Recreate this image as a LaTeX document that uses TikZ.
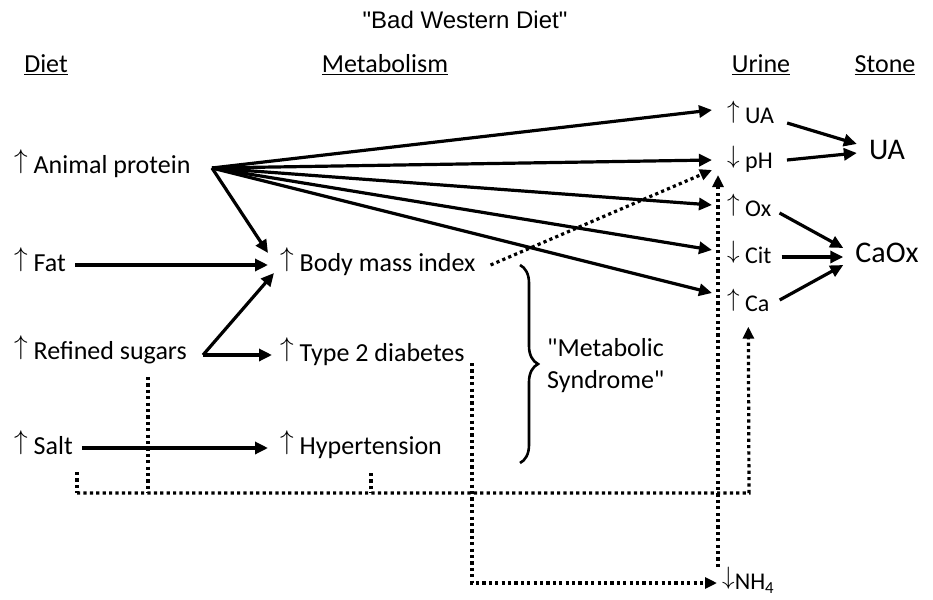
\documentclass[tikz,border=0pt]{standalone}
\usepackage{fontspec}
\usepackage{graphicx}
\setmainfont{Carlito}
\newfontfamily\arialf{Liberation Sans}
\usetikzlibrary{arrows.meta,calc,decorations.pathreplacing}
\newcommand{\ua}{\raisebox{\depth}{\resizebox*{!}{0.93em}{$\uparrow$}}}
\newcommand{\da}{\raisebox{\depth}{\resizebox*{!}{0.93em}{$\downarrow$}}}
\newcommand{\qq}{\textquotedbl}
\begin{document}
\begin{tikzpicture}[x=1pt,y=-1pt,
  txt/.style={inner sep=0pt,font=\fontsize{26}{32}\selectfont,anchor=west,text height=19pt,text depth=6pt},
  utxt/.style={inner sep=0pt,font=\fontsize{24}{30}\selectfont,anchor=west,text height=18pt,text depth=5pt},
  head/.style={inner sep=0pt,font=\fontsize{26}{32}\selectfont,text height=19pt,text depth=6pt},
  stone/.style={inner sep=0pt,font=\fontsize{30}{36}\selectfont},
  arr/.style={line width=3.2pt,-{Triangle[length=13pt,width=12pt]}},
  dotl/.style={line width=3.2pt,dash pattern=on 3.2pt off 3.2pt},
  darr/.style={dotl,-{Triangle[length=12pt,width=11pt]}}]
\useasboundingbox (0,0) rectangle (933,599);
% title and headings
\node[inner sep=0pt,font=\arialf\fontsize{24}{28}\selectfont] (title) at (465,20) {\qq Bad Western Diet\qq};
\node[head] (hdiet) at (46,66) {\underline{Diet}};
\node[head] (hmet) at (385,66) {\underline{Metabolism}};
\node[head] (hur) at (761,66) {\underline{Urine}};
\node[head] (hst) at (885,66) {\underline{Stone}};
% diet
\node[txt] (ap) at (14,167) {\ua{} Animal protein};
\node[txt] (fat) at (14,265) {\ua{} Fat};
\node[txt] (sug) at (14,353) {\ua{} Refined sugars};
\node[txt] (salt) at (14,448) {\ua{} Salt};
% metabolism
\node[txt] (bmi) at (280,265) {\ua{} Body mass index};
\node[txt] (t2d) at (280,355) {\ua{} Type 2 diabetes};
\node[txt] (hyp) at (280,448) {\ua{} Hypertension};
\node[txt,align=left,text height=,text depth=] (ms) at (547,366) {\qq Metabolic\\Syndrome\qq};
% urine
\node[utxt] (uua) at (727,117) {\ua{} UA};
\node[utxt] (uph) at (727,162) {\da{} pH};
\node[utxt] (uox) at (727,210) {\ua{} Ox};
\node[utxt] (ucit) at (727,257) {\da{} Cit};
\node[utxt] (uca) at (727,305) {\ua{} Ca};
\node[utxt] (nh4) at (722,583) {\da NH\textsubscript{4}};
% stone
\node[stone] (sua) at (887,150) {UA};
\node[stone] (scaox) at (887,253) {CaOx};
% solid arrows from animal protein
\coordinate (apo) at (212,168);
\draw[arr] (apo) -- ($(uua.west)+(-15,-7)$);
\draw[arr] (apo) -- ($(uph.west)+(-15,-2)$);
\draw[arr] (apo) -- ($(uox.west)+(-15,-5)$);
\draw[arr] (apo) -- ($(ucit.west)+(-15,-7)$);
\draw[arr] (apo) -- ($(uca.west)+(-15,-12)$);
\draw[arr] (apo) -- ($(bmi.west)+(-12,-12)$);
% other diet arrows
\draw[arr] ($(fat.east)+(9,0)$) -- ($(bmi.west)+(-12,0)$);
\coordinate (sugo) at (203,355);
\draw[arr] (sugo) -- ($(bmi.west)+(-6,8)$);
\draw[arr] (sugo) -- ($(t2d.west)+(-8,0)$);
\draw[arr] ($(salt.east)+(9,0)$) -- ($(hyp.west)+(-12,0)$);
% urine to stone
\draw[arr] ($(uua.east)+(13,6)$) -- ($(sua.west)+(-12,-6)$);
\draw[arr] ($(uph.east)+(14,-2)$) -- ($(sua.west)+(-12,3)$);
\draw[arr] ($(uox.east)+(8,3)$) -- ($(scaox.west)+(-12,-5)$);
\draw[arr] ($(ucit.east)+(10,0)$) -- ($(scaox.west)+(-12,4)$);
\draw[arr] ($(uca.east)+(10,-5)$) -- ($(scaox.west)+(-12,12)$);
% brace
\draw[line width=2.6pt,decorate,decoration={brace,amplitude=18pt}] (520,265) -- (520,463);
% dotted
\draw[darr] ($(bmi.east)+(15,0)$) -- ($(uph.west)+(-15,8)$);
\draw[darr] ($(nh4.west)+(-4,-16)$) -- ($(uph.west)+(-9,13)$);
\coordinate (saltd) at (77,472);
\coordinate (sugd) at (148,377);
\coordinate (hypd) at (371,473);
\coordinate (t2dd) at (472,363);
\coordinate (bl) at (77,493);
\coordinate (br) at (749,493);
\draw[dotl] (saltd) -- (bl);
\draw[darr] (bl) -- (br) -- ($(uca.south)+(0,10)$ -| br);
\draw[dotl] (sugd) -- (sugd |- bl);
\draw[dotl] (hypd) -- (hypd |- bl);
\draw[darr] (t2dd) -- (t2dd |- nh4) -- ($(nh4.west)+(-5,0)$);
\end{tikzpicture}
\end{document}
